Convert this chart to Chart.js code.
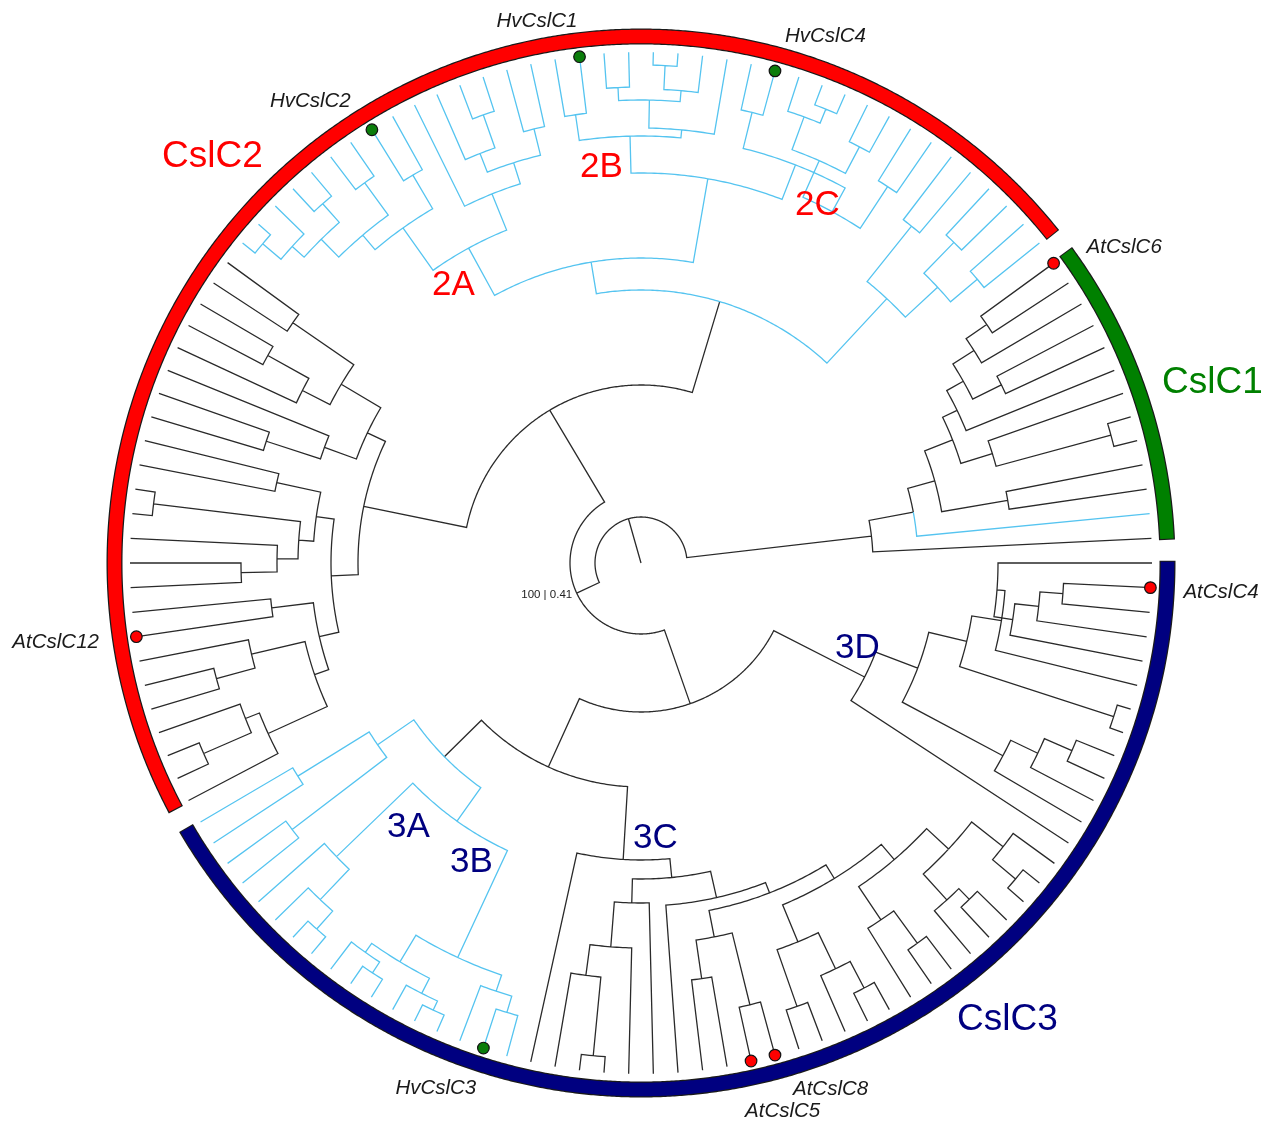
<!DOCTYPE html>
<html>
<head>
<meta charset="utf-8">
<script src="https://cdn.jsdelivr.net/npm/chart.js@4/dist/chart.umd.min.js"></script>
<style>
  html, body { margin: 0; padding: 0; background: #fff; overflow: hidden; }
  canvas { display: block; }
</style>
</head>
<body>
<canvas id="tree" width="1277" height="1122"></canvas>
<script>
// ---------------------------------------------------------------------------
// Tree data, Newick style.  "(a,b)r" is an internal node drawn at radius r,
// "o" is an unnamed tip, "Name:R" / "Name:G" is a named tip with a red / green
// marker, and "~" after a node or tip highlights that branch and everything
// below it.  Children are listed counter-clockwise.
// ---------------------------------------------------------------------------
const LEAF_R = 511;          // radius of every tip
const TIP_COUNT = 130;

const cslc1Tree = "(o,(o~,((o,o)372,(((o,o)487,o)368,(o,((o,o)402,(o,(o,AtCslC6:R)420)395)370)351)335)305)277)232";

const g1Tree    = "(((o,o)440,(o,o)448)405,(o,o)432)361";
const twoCTree  = "(((o,o)450,((o,o)470,((o,o)490,o)475)440)400,(HvCslC4:G,o)464)427";
const twoBTree  = "((o,((o,(o,o)498)474,(o,o)476)463)435,(HvCslC1:G,o)453)427";
const twoATree  = "((((o,o)447,((o,o)475,o)440)420,o)398,((o,HvCslC2:G)450,((o,o)470,((o,o)480,(o,(o,o)495)471)455)430)411)359";
const blackC2Tree = "((((o,o)423,((o,o)427,o)380)349,(o,(o,o)394)337)303,(((o,o)373,((o,o)491,(o,(o,o)400)364)343)328,((o,AtCslC12:R)372,((o,(o,o)440)400,((o,(o,o)477)425,o)410)345)330)310)283";

const x3Tree    = "((o,o)404,(o,o)439)320";
const threeATree = "(o,(o,(o,o)489)465)423";
const threeBTree = "(((o,(o,o)490)477,(o,(o,o)493)483)466,(o,(HvCslC3:G,o)469)452)435";
const v2Tree    = "(((o,o)470,(o,(o,o)480)450)410,((o,(o,o)470)430,((o,(o,o)470)455,((o,o)490,o)460)420)390)370";
const threeCTree = `(o,((((o,(o,o)495)416,o)385,o)340,(o,(((o,o)420,(AtCslC5:R,AtCslC8:R)455)381,${v2Tree})354)343)316)297`;
const threeDTree = "(o,((o,(o,(o,o)470)440)410,((o,o)497,(o,((o,(o,(o,AtCslC4:R)423)400)376,o)357)365)335)296)251";

const cslc2Tree = `((${g1Tree}~,((${twoCTree},${twoBTree})390,${twoATree})305~)273,${blackC2Tree})178`;
const cslc3Tree = `(((${x3Tree}~,(${threeATree},${threeBTree})317~)276,${threeCTree})224,${threeDTree})149`;
const rootTree  = `(${cslc1Tree},(${cslc2Tree},${cslc3Tree})71)46`;

// Clade bands around the tips, and their names.
const cladeNames   = ["CslC1", "CslC2", "CslC3"];
const cladeColours = ["#008000", "#ff0000", "#000080"];
const subcladeNames = ["2A", "2B", "2C", "3A", "3B", "3C", "3D"];
const rootSupport = "100 | 0.41";

// ---------------------------------------------------------------------------
function parseTree(src) {
  const s = src.replace(/\s+/g, "");
  let i = 0;
  const num = () => {
    const m = /^\d+(\.\d+)?/.exec(s.slice(i));
    i += m[0].length;
    return parseFloat(m[0]);
  };
  const node = () => {
    let n;
    if (s[i] === "(") {
      i++;
      const kids = [node()];
      while (s[i] === ",") { i++; kids.push(node()); }
      i++;
      n = { kids, r: num() };
    } else {
      const m = /^[A-Za-z0-9]+(:[RG])?/.exec(s.slice(i));
      i += m[0].length;
      const [name, mark] = m[0].split(":");
      n = { name: name === "o" ? null : name, mark: mark || null, r: LEAF_R };
    }
    if (s[i] === "~") { i++; n.hl = true; }
    return n;
  };
  return node();
}

const STEP = 360 / TIP_COUNT;
const root = parseTree(rootTree);
const clades = [root.kids[0], root.kids[1].kids[0], root.kids[1].kids[1]];

let tipNo = 0;
const tips = [];
(function layout(n, hl) {
  n.hl = !!(n.hl || hl);
  if (!n.kids) {
    n.a = -(tipNo + 1) * STEP;   // degrees, screen orientation (clockwise from +x)
    tipNo++;
    tips.push(n);
    return;
  }
  n.kids.forEach(c => layout(c, n.hl));
  n.a = (n.kids[0].a + n.kids[n.kids.length - 1].a) / 2;
})(root, false);

const polar = (r, a) => ({ x: r * Math.cos(a * Math.PI / 180), y: -r * Math.sin(a * Math.PI / 180) });
const GAP = { x: NaN, y: NaN };

function arcPoints(r, a0, a1, step) {
  const n = Math.max(1, Math.ceil(Math.abs(a1 - a0) / step));
  const pts = [];
  for (let j = 0; j <= n; j++) pts.push(polar(r, a0 + (a1 - a0) * j / n));
  return pts;
}

const blackPts = [polar(0, root.a), polar(root.r, root.a), GAP];
const bluePts = [];
(function branches(n) {
  if (!n.kids) return;
  for (const c of n.kids) {
    const target = c.hl ? bluePts : blackPts;
    target.push(...arcPoints(n.r, n.a, c.a, 0.5), polar(c.r, c.a), GAP);
    branches(c);
  }
})(root);

function tipsOf(n) { return n.kids ? n.kids.flatMap(tipsOf) : [n]; }

// A solid dash pattern keeps Chart.js on its exact path renderer.
const SOLID = [100000, 0];

const RING_R = 526.5;
const ringDatasets = [];
clades.forEach((clade, idx) => {
  const t = tipsOf(clade);
  const a0 = t[0].a + 0.25, a1 = t[t.length - 1].a - 0.25;
  ringDatasets.push({ data: arcPoints(RING_R, a0, a1, 0.25), showLine: true, borderColor: "#1a1a1a",
    borderWidth: 16, borderCapStyle: "butt", borderDash: SOLID, pointRadius: 0, order: 6 });
  ringDatasets.push({ data: arcPoints(RING_R, a0 - 0.12, a1 + 0.12, 0.25), showLine: true,
    borderColor: cladeColours[idx], borderWidth: 13.5, borderCapStyle: "butt", borderDash: SOLID,
    pointRadius: 0, order: 5 });
});

const marked = tips.filter(t => t.mark);
const dotData = marked.map(t => polar(LEAF_R - 1, t.a));
const dotColours = marked.map(t => t.mark === "R" ? "#ff0000" : "#0b7d0b");

// Label placement: [left, baseline] in pixels relative to a tip, or in chart units for free labels.
const tipLabelOffset = {
  HvCslC2: [-102, -23], HvCslC1: [-83, -30], HvCslC4: [10, -29], AtCslC6: [33, -10],
  AtCslC4: [33, 10], AtCslC12: [-124, 11], HvCslC3: [-88, 46], AtCslC8: [18, 40], AtCslC5: [-6, 56]
};
const cladeLabelPos = { CslC1: [521, 170], CslC2: [-479, 396], CslC3: [316, -467] };
const subcladeLabelPos = {
  "2A": [-209, 268], "2B": [-61, 386], "2C": [154, 348],
  "3A": [-254, -274], "3B": [-191, -309], "3C": [-8, -285], "3D": [194, -95]
};

const labelPlugin = {
  id: "treeLabels",
  afterDatasetsDraw(chart) {
    const { ctx, scales: { x, y } } = chart;
    const px = v => x.getPixelForValue(v), py = v => y.getPixelForValue(v);
    ctx.save();
    ctx.textAlign = "left";
    ctx.textBaseline = "alphabetic";

    ctx.font = '37px "Liberation Sans", Arial, sans-serif';
    cladeNames.forEach((name, i) => {
      ctx.fillStyle = cladeColours[i];
      const [vx, vy] = cladeLabelPos[name];
      ctx.fillText(name, px(vx), py(vy));
    });

    ctx.font = '35px "Liberation Sans", Arial, sans-serif';
    subcladeNames.forEach(name => {
      ctx.fillStyle = name[0] === "2" ? "#ff0000" : "#000080";
      const [vx, vy] = subcladeLabelPos[name];
      ctx.fillText(name, px(vx), py(vy));
    });

    ctx.font = 'italic 20.5px "Liberation Sans", Arial, sans-serif';
    ctx.fillStyle = "#1a1a1a";
    marked.forEach(t => {
      const p = polar(LEAF_R - 1, t.a);
      const [dx, dy] = tipLabelOffset[t.name];
      ctx.fillText(t.name, px(p.x) + dx, py(p.y) + dy);
    });

    const n71 = root.kids[1];
    const q = polar(n71.r, n71.a);
    ctx.font = '11.5px "Liberation Sans", Arial, sans-serif';
    ctx.textAlign = "right";
    ctx.fillStyle = "#222";
    ctx.fillText(rootSupport, px(q.x) - 4.5, py(q.y) + 5);
    ctx.restore();
  }
};

new Chart(document.getElementById("tree"), {
  type: "scatter",
  data: {
    datasets: [
      ...ringDatasets,
      { data: blackPts, showLine: true, borderColor: "#2a2a2a", borderWidth: 1.3, borderDash: SOLID,
        pointRadius: 0, spanGaps: false, order: 4 },
      { data: bluePts, showLine: true, borderColor: "#55c4f0", borderWidth: 1.3, borderDash: SOLID,
        pointRadius: 0, spanGaps: false, order: 3 },
      { data: dotData, showLine: false, pointRadius: 5.8, pointBackgroundColor: dotColours,
        pointBorderColor: "#111", pointBorderWidth: 1.2, order: 1 }
    ]
  },
  options: {
    responsive: false,
    animation: false,
    devicePixelRatio: 1,
    events: [],
    layout: { padding: 0, autoPadding: false },
    plugins: { legend: { display: false }, tooltip: { enabled: false } },
    scales: {
      x: { type: "linear", min: -641, max: 636, display: false },
      y: { type: "linear", min: -559, max: 563, display: false }
    },
    elements: { line: { tension: 0 } }
  },
  plugins: [labelPlugin]
});
</script>
</body>
</html>
